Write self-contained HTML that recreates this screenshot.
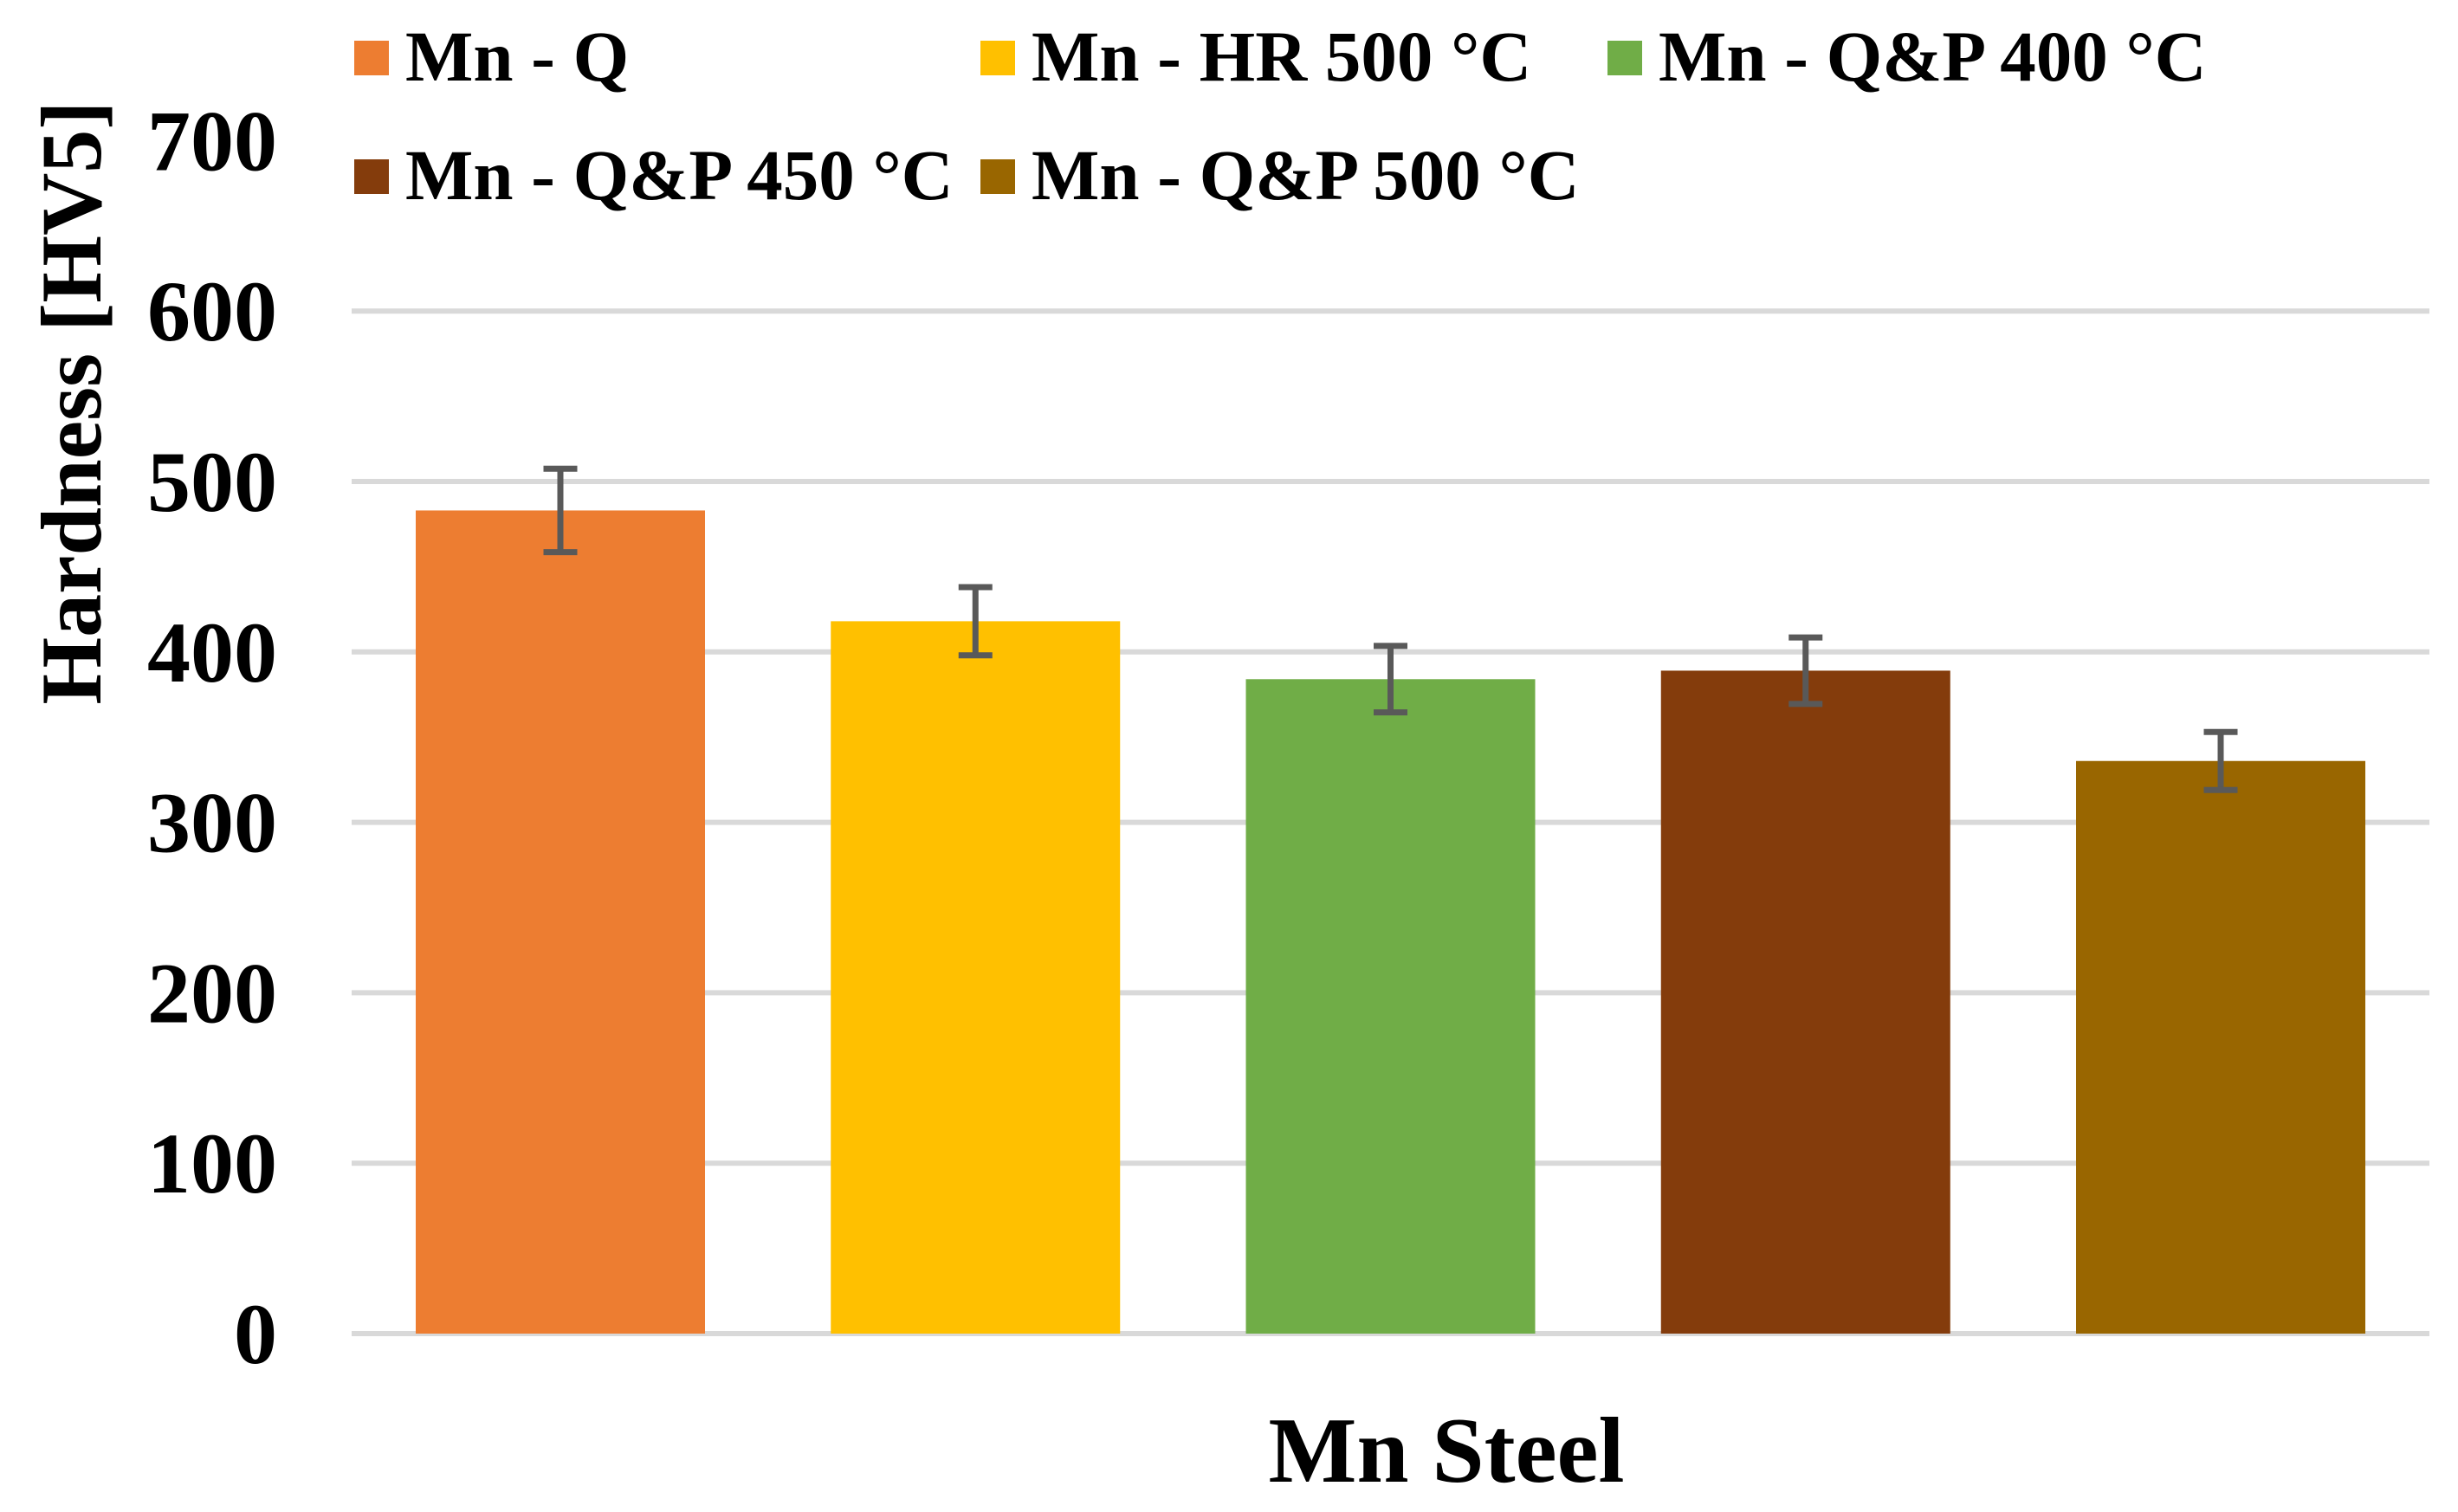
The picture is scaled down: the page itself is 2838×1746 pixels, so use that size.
<!DOCTYPE html>
<html><head><meta charset="utf-8"><style>
html,body{margin:0;padding:0;background:#fff;}
svg{display:block;font-family:"Liberation Serif",serif;font-weight:bold;}
</style></head><body>
<svg id="chart" width="2838" height="1746" viewBox="0 0 2838 1746" xmlns="http://www.w3.org/2000/svg">
<g id="grid"></g>
<g id="yticks"></g>
<g id="bars"></g>
<g id="errs"></g>
<g id="legend"></g>
<text transform="translate(116,465) rotate(-90)" text-anchor="middle" font-size="100">Hardness [HV5]</text>
<text x="1670" y="1711" text-anchor="middle" font-size="108">Mn Steel</text>
</svg>
<script>
const categories = ["Mn - Q","Mn - HR 500 °C","Mn - Q&P 400 °C","Mn - Q&P 450 °C","Mn - Q&P 500 °C"];
const values = [483, 418, 384, 389, 336];
const errors = [24.5, 20, 19.5, 19.5, 17];
const yTicks = [0,100,200,300,400,500,600,700];
const colors = ["#ED7D31","#FFC000","#70AD47","#843C0C","#996600"];

const NS="http://www.w3.org/2000/svg";
const y0=1540, pxPer=1.968, plotL=406, plotR=2805;
function y(v){return y0 - v*pxPer;}
function xBar(i){return 480 + i*479.25;}
const barW=334;
function mk(tag,attrs,parent){const e=document.createElementNS(NS,tag);for(const k in attrs)e.setAttribute(k,attrs[k]);parent.appendChild(e);return e;}
const grid=document.getElementById('grid'),yt=document.getElementById('yticks'),bars=document.getElementById('bars'),errs=document.getElementById('errs'),leg=document.getElementById('legend');
yTicks.forEach(t=>{
  if(t<700){
    const l=mk('line',{x1:plotL,x2:plotR,y1:y(t),y2:y(t),stroke:'#d9d9d9','stroke-width':6},grid);
    
    
  }
  const tx=mk('text',{x:320,y:y(t)+34,'text-anchor':'end','font-size':100},yt);
  tx.textContent=t;
  
  
});
values.forEach((v,i)=>{
  const r=mk('rect',{x:xBar(i),y:y(v),width:barW,height:y(0)-y(v),fill:colors[i]},bars);
  
  
  const cx=xBar(i)+barW/2, hi=y(v+errors[i]), lo=y(v-errors[i]);
  const g=mk('g',{stroke:'#595959','stroke-width':7},errs);
  
  
  mk('line',{x1:cx,x2:cx,y1:hi,y2:lo},g);
  mk('line',{x1:cx-19.5,x2:cx+19.5,y1:hi,y2:hi},g);
  mk('line',{x1:cx-19.5,x2:cx+19.5,y1:lo,y2:lo},g);
});
const legPos=[[409,67],[1132,67],[1856,67],[409,204],[1132,204]];
categories.forEach((c,i)=>{
  const [lx,ly]=legPos[i];
  const g=mk('g',{},leg);
  
  
  mk('rect',{x:lx,y:ly-20,width:40,height:40,fill:colors[i]},g);
  const t=mk('text',{x:lx+59,y:ly+26,'font-size':83},g);
  t.textContent=c;
});
</script>
</body></html>
